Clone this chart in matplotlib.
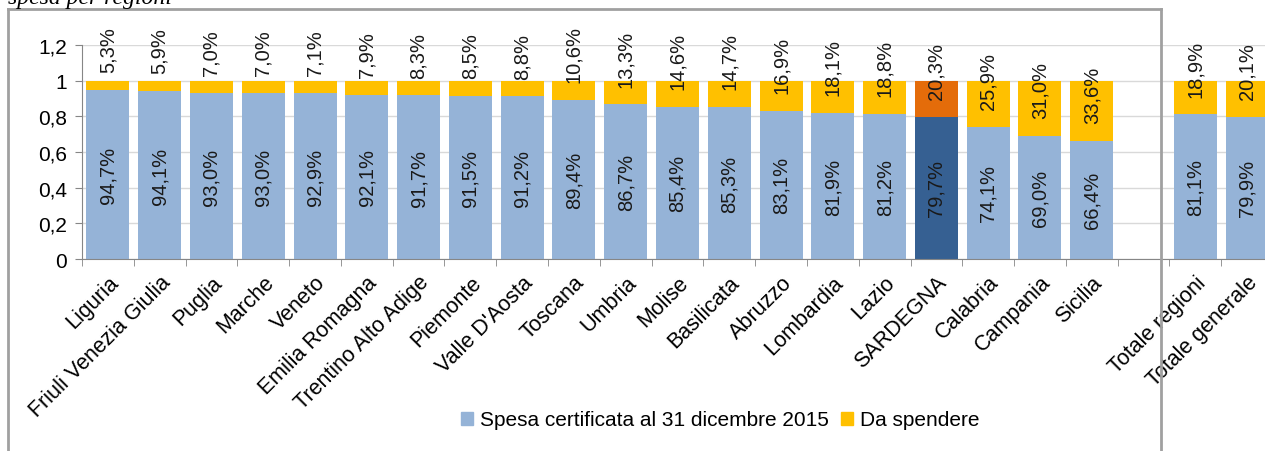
import matplotlib
matplotlib.use("Agg")
import matplotlib.pyplot as plt
import numpy as np
from matplotlib.lines import Line2D
from matplotlib.patches import Patch

plt.rcParams['font.family'] = ['Liberation Sans', 'DejaVu Sans']

# categories (empty slot between regions and totals)
regioni = ["Liguria", "Friuli Venezia Giulia", "Puglia", "Marche", "Veneto",
           "Emilia Romagna", "Trentino Alto Adige", "Piemonte", "Valle D'Aosta",
           "Toscana", "Umbria", "Molise", "Basilicata", "Abruzzo", "Lombardia",
           "Lazio", "SARDEGNA", "Calabria", "Campania", "Sicilia",
           "", "Totale regioni", "Totale generale"]
# percentages
spesa = [94.7, 94.1, 93.0, 93.0, 92.9, 92.1, 91.7, 91.5, 91.2, 89.4, 86.7,
         85.4, 85.3, 83.1, 81.9, 81.2, 79.7, 74.1, 69.0, 66.4, None, 81.1, 79.9]
da_spendere = [5.3, 5.9, 7.0, 7.0, 7.1, 7.9, 8.3, 8.5, 8.8, 10.6, 13.3,
               14.6, 14.7, 16.9, 18.1, 18.8, 20.3, 25.9, 31.0, 33.6, None, 18.9, 20.1]
evidenza = "SARDEGNA"

BLUE = "#95B3D7"
YELLOW = "#FFC000"
DARK_BLUE = "#366092"
ORANGE = "#E46C0A"

W, H = 1265, 452
fig = plt.figure(figsize=(W / 100, H / 100), dpi=100)
ax = fig.add_axes([82 / W, 1 - 260 / H, (1273 - 82) / W, 214 / H])

fmt = lambda v: f"{v:.1f}%".replace(".", ",")

for i, (name, b, y) in enumerate(zip(regioni, spesa, da_spendere)):
    if b is None:
        continue
    cb, cy = (DARK_BLUE, ORANGE) if name == evidenza else (BLUE, YELLOW)
    ax.bar(i, b / 100, width=0.83, color=cb, zorder=2)
    ax.bar(i, y / 100, bottom=b / 100, width=0.83, color=cy, zorder=2)
    ax.text(i, b / 200, fmt(b), rotation=90, ha="center", va="center",
            fontsize=14.5, color="#1a1a1a", zorder=3)
    ax.text(i, b / 100 + 0.1, fmt(y), rotation=90, rotation_mode="anchor",
            ha="left", va="center", fontsize=14.5, color="#1a1a1a", zorder=3)

ax.set_xlim(-0.5, len(regioni) - 0.5)
ax.set_ylim(0, 1.2)
yt = np.arange(0, 1.21, 0.2)
ax.set_yticks(yt)
ax.set_yticklabels(["0", "0,2", "0,4", "0,6", "0,8", "1", "1,2"], fontsize=15)
ax.yaxis.grid(True, color="#D9D9D9", linewidth=1, zorder=0)
ax.set_axisbelow(True)

ax.set_xticks(range(len(regioni)))
ax.set_xticklabels(regioni, rotation=45, ha="right", va="top",
                   rotation_mode="anchor", fontsize=15.5)
ax.set_xticks(np.arange(-0.5, len(regioni), 1), minor=True)
ax.tick_params(axis="x", which="major", length=0, pad=9)
ax.tick_params(axis="x", which="minor", length=5, color="#868686", direction="out")
ax.tick_params(axis="y", length=5, color="#868686", pad=6)

for s in ["top", "right"]:
    ax.spines[s].set_visible(False)
for s in ["left", "bottom"]:
    ax.spines[s].set_color("#868686")

handles = [Patch(color=BLUE, label="Spesa certificata al 31 dicembre 2015"),
           Patch(color=YELLOW, label="Da spendere")]
fig.legend(handles=handles, loc="center", bbox_to_anchor=(720 / W, 1 - 421 / H),
           ncol=2, frameon=False, fontsize=15, handlelength=0.6, handleheight=0.6,
           handletextpad=0.3, columnspacing=0.6)

# frame of the document box
fc = "#A0A0A0"
fig.add_artist(Line2D([8 / W, 1161 / W], [1 - 10 / H, 1 - 10 / H], color=fc, lw=2))
fig.add_artist(Line2D([8 / W, 8 / W], [0, 1 - 10 / H], color=fc, lw=2))
fig.add_artist(Line2D([1161 / W, 1161 / W], [0, 1 - 10 / H], color=fc, lw=2))

# caption above the box, cut off at the top as in the screenshot
fig.text(8 / W, 1 - 4 / H, "spesa per regioni", fontsize=17, style="italic",
         family="Liberation Serif", va="baseline", ha="left")

fig.savefig("out.png", dpi=100)
